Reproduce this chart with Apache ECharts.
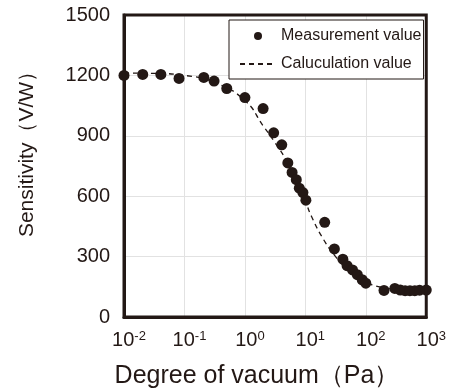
<!DOCTYPE html>
<html>
<head>
<meta charset="utf-8">
<script src="https://cdn.jsdelivr.net/npm/echarts@6/dist/echarts.min.js"></script>
<style>html,body{margin:0;padding:0;background:#fff}#c{width:449px;height:390px}</style>
</head>
<body>
<div id="c"></div>
<script>
// Measured data: pressure (Pa) and sensitivity (V/W)
const measPressure = [0.01, 0.0204, 0.0407, 0.0813, 0.209, 0.309, 0.501, 1.0, 2.0, 2.99, 4.07, 5.13, 6.03, 7.08, 7.94, 9.12, 10.2, 20.9, 30.2, 41.7, 49.0, 60.3, 72.4, 87.1, 100, 200, 302, 372, 447, 537, 646, 776, 1000];
const measValue    = [1200, 1205, 1205, 1185, 1190, 1172, 1135, 1090, 1035, 915, 855, 765, 718, 682, 640, 618, 580, 470, 338, 287, 255, 234, 210, 185, 168, 132, 142, 134, 131, 131, 131, 133, 134];
// Calculated curve
const calcPressure = [0.01, 0.0316, 0.1, 0.316, 1.0, 2.0, 3.16, 5.01, 7.94, 10, 12.6, 20, 31.6, 50.1, 79.4, 126, 200, 398, 1000];
const calcValue    = [1212, 1210, 1200, 1165, 1075, 950, 865, 770, 640, 575, 500, 385, 300, 235, 185, 160, 145, 133, 130];
const yTicks = [0, 300, 600, 900, 1200, 1500];
const xTickExponents = ['-2', '-1', '0', '1', '2', '3'];
const seriesNames = ['Measurement value', 'Caluculation value'];
const xAxisTitle = 'Degree of vacuum（Pa）';
const yAxisTitle = 'Sensitivity（V/W）';

const ink = '#231815';
const font = 'Liberation Sans, Arial, sans-serif';
const chart = echarts.init(document.getElementById('c'));
chart.setOption({
  animation: false,
  backgroundColor: '#fff',
  textStyle: { fontFamily: font, color: ink },
  grid: { left: 124, right: 21, top: 15, bottom: 73, show: true, borderColor: ink, borderWidth: 3, backgroundColor: 'transparent', z: 5 },
  legend: {
    left: 229, top: 20, orient: 'vertical',
    borderColor: ink, borderWidth: 1, backgroundColor: '#fff',
    padding: [8, 2, 7, 10], itemGap: 12,
    itemWidth: 36, itemHeight: 8, itemTextGap: 6,
    textStyle: { fontFamily: font, fontSize: 16, color: ink },
    data: [
      { name: seriesNames[0], icon: 'circle' },
      { name: seriesNames[1], itemStyle: { opacity: 0, color: 'transparent', borderColor: 'transparent' } }
    ]
  },
  xAxis: {
    type: 'log', logBase: 10, min: 0.01, max: 1000,
    axisLine: { show: true, lineStyle: { color: ink, width: 3 } },
    axisTick: { show: false },
    splitLine: { show: true, showMinLine: false, showMaxLine: false, lineStyle: { color: '#e2e2e2', width: 1 } },
    axisLabel: {
      margin: 13,
      padding: [0, 0, 0, 10],
      formatter: function (v) {
        const e = Math.round(Math.log10(v));
        const lab = xTickExponents.find(s => Number(s) === e);
        return '{b|10}{s|' + lab + '}';
      },
      rich: {
        b: { fontSize: 20, fontFamily: font, color: ink },
        s: { fontSize: 13, fontFamily: font, color: ink, verticalAlign: 'top', padding: [0, 0, 7, 0] }
      }
    }
  },
  yAxis: {
    type: 'value', min: yTicks[0], max: yTicks[yTicks.length - 1], interval: yTicks[1] - yTicks[0],
    axisLine: { show: true, lineStyle: { color: ink, width: 3 } },
    axisTick: { show: false },
    splitLine: { show: true, showMinLine: false, showMaxLine: false, lineStyle: { color: '#e2e2e2', width: 1 } },
    axisLabel: { margin: 14, fontSize: 20, fontFamily: font, color: ink, padding: [5, 0, 0, 0], formatter: v => String(v) }
  },
  graphic: [
    { type: 'text', x: 257, y: 376, style: { text: xAxisTitle, font: '25px ' + font, fill: ink, textAlign: 'center', textVerticalAlign: 'middle' } },
    { type: 'text', x: 27, y: 149, rotation: Math.PI / 2, style: { text: yAxisTitle, font: '21px ' + font, fill: ink, textAlign: 'center', textVerticalAlign: 'middle' } }
  ],
  series: [
    {
      name: seriesNames[1], type: 'line', smooth: true, showSymbol: false, symbol: 'none',
      data: calcPressure.map((p, i) => [p, calcValue[i]]),
      lineStyle: { color: ink, width: 1.3, type: [5, 4] }, itemStyle: { color: ink }, z: 2
    },
    {
      name: seriesNames[0], type: 'scatter', symbol: 'circle', symbolSize: 11,
      data: measPressure.map((p, i) => [p, measValue[i]]),
      itemStyle: { color: ink, opacity: 1 }, z: 3
    }
  ]
});
</script>
</body>
</html>
